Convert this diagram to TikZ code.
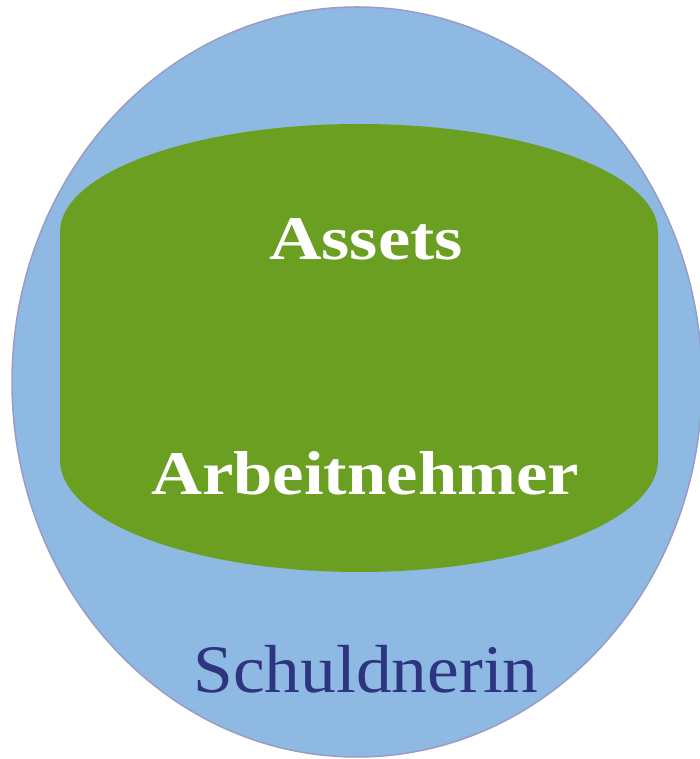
\documentclass[tikz,border=0pt]{standalone}
\usepackage{fontspec}
\setmainfont{Liberation Serif}
\usepackage{graphicx}
\usepackage{tikz}

\definecolor{debtorblue}{HTML}{8DB9E2}
\definecolor{debtorline}{HTML}{9A9CC4}
\definecolor{estategreen}{HTML}{6A9F22}
\definecolor{labelblue}{HTML}{2E3580}

\begin{document}
\begin{tikzpicture}[x=1pt, y=1pt]
        \useasboundingbox (0, 0) rectangle (699, 759);

        \draw[debtorline, fill=debtorblue, line width=1.5pt] (357, 377) ellipse [x radius=345, y radius=375];

        \fill[estategreen] (60, 527) arc[start angle=180, end angle=0, x radius=299, y radius=108]
            -- (658, 299) arc[start angle=0, end angle=-180, x radius=299, y radius=112] -- cycle;

        \node[anchor=base, text=white, font=\bfseries\fontsize{62}{64}\selectfont] (A1) at (366, 499) {\scalebox{1.17}[1]{Assets}};
        \node[anchor=base, text=white, font=\bfseries\fontsize{62}{64}\selectfont] (A2) at (365, 264) {\scalebox{1.14}[1]{Arbeitnehmer}};
        \node[anchor=base, text=labelblue, font=\fontsize{68}{70}\selectfont] (S) at (366, 66) {\scalebox{1.05}[1]{Schuldnerin}};

    \end{tikzpicture}
\end{document}
